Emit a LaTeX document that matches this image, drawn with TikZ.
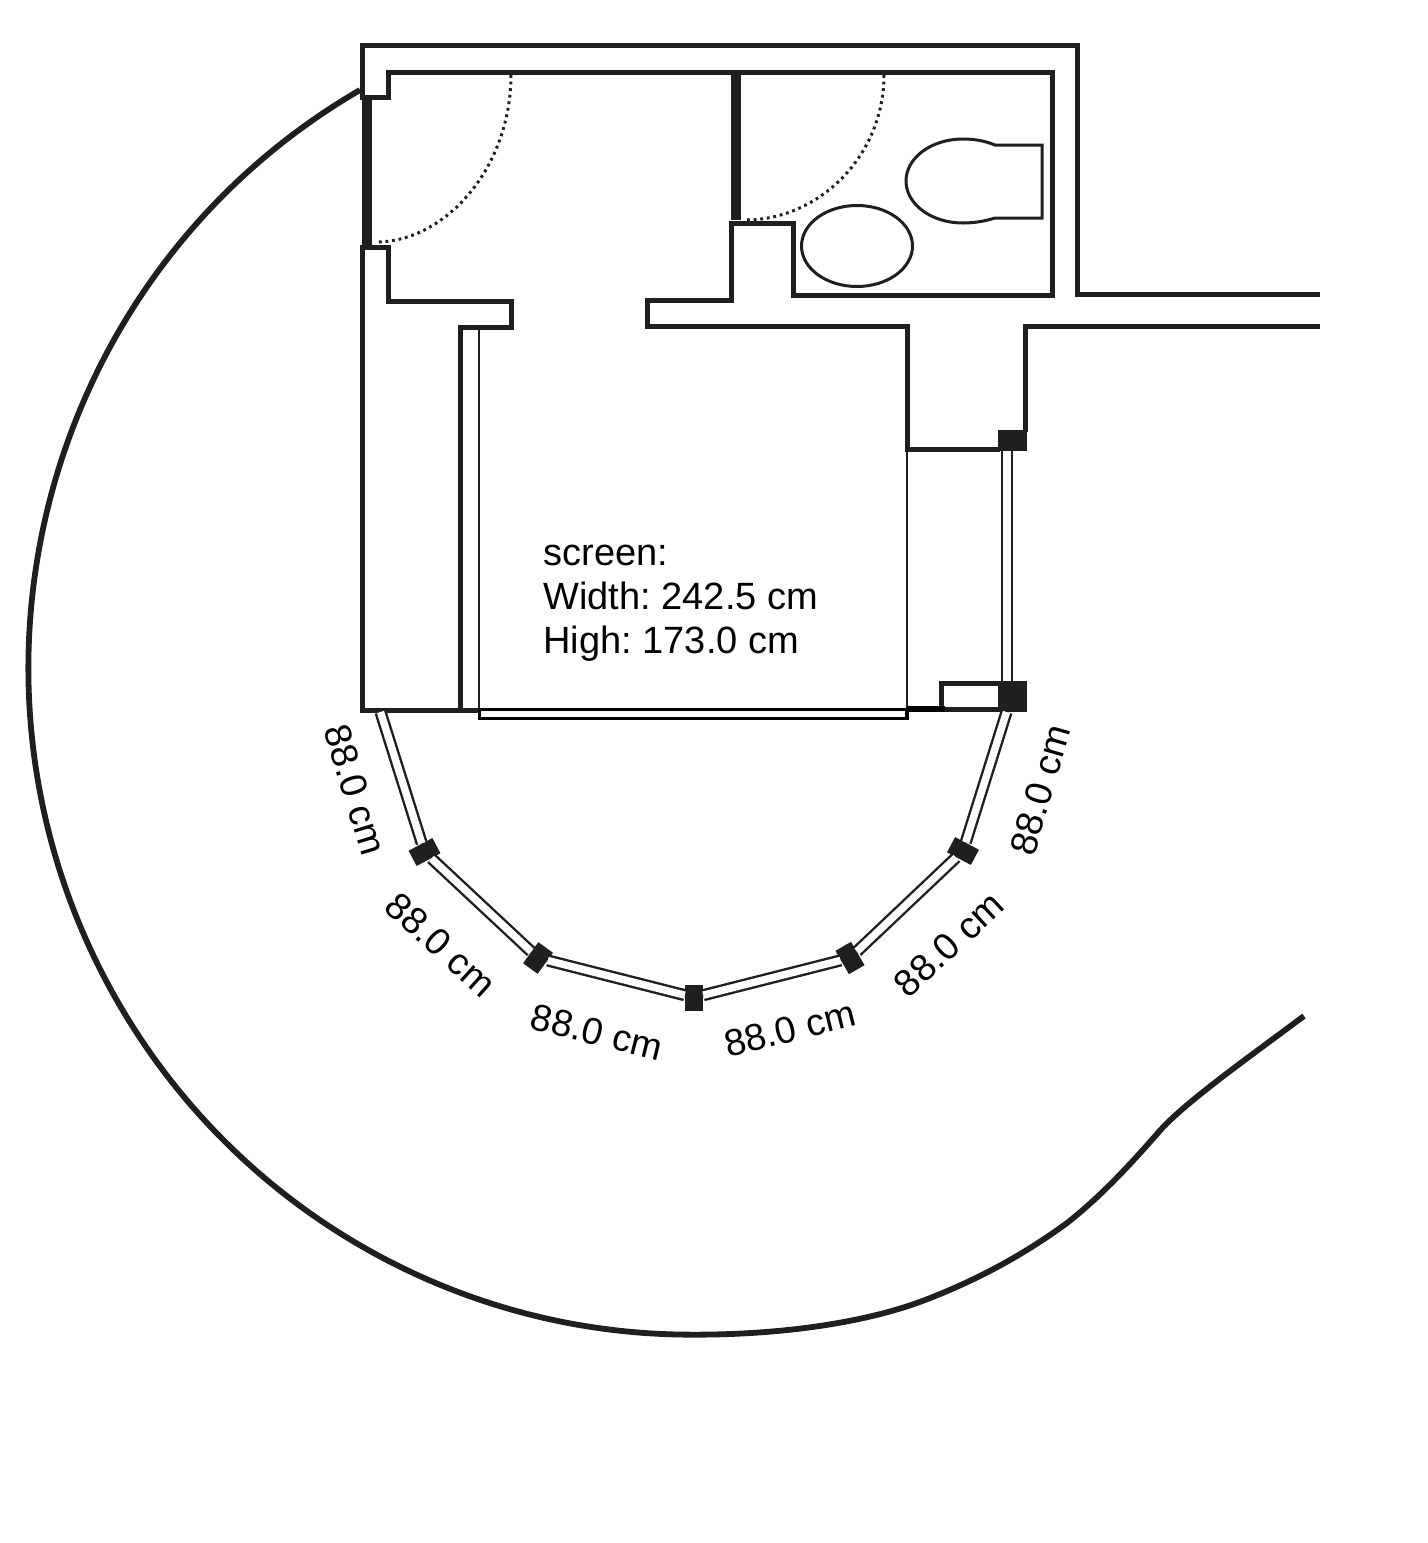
\documentclass[tikz,border=0pt]{standalone}
\usepackage{fontspec}
\setmainfont{Liberation Sans}
\usetikzlibrary{positioning}
\definecolor{planblack}{HTML}{1F1F1F}

\begin{document}
\frenchspacing
\begin{tikzpicture}
  [
    x=0.5pt, y=-0.5pt,
    Wall/.style={draw=planblack, line width=2.5pt},
    Garden/.style={draw=planblack, line width=2.9pt},
    Thin/.style={draw=planblack, line width=1.2pt},
    Panel/.style={draw=planblack, line width=5pt},
    Swing/.style={draw=planblack, line width=1.5pt, dash pattern=on 1.4pt off 1.9pt},
    Fixture/.style={draw=planblack, line width=1.5pt},
    Glass/.style={draw=planblack, line width=1.2pt, double=white, double distance=3.7pt},
    Block/.style={rectangle, fill=planblack, inner sep=0pt},
    Size/.style={font=\fontsize{18.8}{22}\selectfont, inner sep=0pt}
  ]
  \useasboundingbox (0,0) rectangle (1428,1543);

  % Nodes
  \node[Block, minimum width=13.5pt, minimum height=8.6pt, rotate=28] (p1) at(424.5, 852) {};
  \node[Block, minimum width=13pt, minimum height=9pt, rotate=54] (p2) at(538, 958) {};
  \node[Block, minimum width=8.8pt, minimum height=13pt] (p3) at(694, 997.5) {};
  \node[Block, minimum width=13.5pt, minimum height=9pt, rotate=-60] (p4) at(850, 958) {};
  \node[Block, minimum width=13.5pt, minimum height=8.6pt, rotate=-28] (p5) at(963, 851) {};
  \node[Block, minimum width=14.5pt, minimum height=15.5pt] (p6) at(1012.5, 696.5) {};
  \node[Block, minimum width=14.5pt, minimum height=10.5pt] (p7) at(1012.5, 440.5) {};
  \coordinate (g0) at(380.5, 712);
  \coordinate (g6) at(1006.5, 712);
  \coordinate (g7) at(1007, 681);
  \coordinate (g8) at(1007, 451);

  \node[Size, font=\fontsize{19}{22}\selectfont, align=left, anchor=west] (screen) at(543, 603) {screen:\\Width: 242.5 cm\\High: 173.0 cm};
  \node[Size, rotate=-73] (s1) at(355, 790) {88.0 cm};
  \node[Size, rotate=-42] (s2) at(441, 945) {88.0 cm};
  \node[Size, rotate=-14] (s3) at(597, 1032) {88.0 cm};
  \node[Size, rotate=14] (s4) at(790, 1029) {88.0 cm};
  \node[Size, rotate=43] (s5) at(949, 944) {88.0 cm};
  \node[Size, rotate=74] (s6) at(1040, 790) {88.0 cm};

  % Walls
  \path [Wall] (1320, 294) -- (1077, 294) -- (1077, 45) -- (362, 45) -- (362, 97) -- (388, 97) -- (388, 72)
    -- (1052, 72) -- (1052, 295) -- (793, 295) -- (793, 223) -- (731, 223) -- (731, 300) -- (647, 300)
    -- (647, 326) -- (907, 326) -- (907, 449) -- (1000, 449);
  \path [Wall] (1025, 432) -- (1025, 326) -- (1320, 326);
  \path [Wall] (480, 710) -- (362, 710) -- (362, 247) -- (388, 247) -- (388, 301) -- (511, 301)
    -- (511, 327) -- (460, 327) -- (460, 710);
  \path [Thin] (479, 327) -- (479, 710);
  \path [Thin] (907, 449) -- (907, 710);
  \path [draw=black, line width=1.8pt] (907, 710) -- (907, 718.5) -- (479.5, 718.5) -- (479.5, 709.5) -- (907, 709.5);
  \path [Wall] (998, 683.5) -- (941, 683.5) -- (941, 709.5) -- (998, 709.5);
  \path [draw=black, line width=3pt] (907, 708.5) -- (945, 708.5);

  % Doors
  \path [Panel] (367, 97) -- (367, 245);
  \path [Panel] (736, 75) -- (736, 220);
  \path [Swing] (511, 75) .. controls (511, 167) and (446, 242) .. (376, 242);
  \path [Swing] (884, 75) .. controls (884, 155) and (820, 220) .. (745, 220);

  % Fixtures
  \path [Fixture] (857, 246) ellipse [x radius=55.5, y radius=40.5];
  \path [Fixture] (995, 145) .. controls (985, 141) and (975, 139) .. (963, 139)
    .. controls (931, 139) and (906, 158) .. (906, 181)
    .. controls (906, 204) and (931, 223) .. (963, 223)
    .. controls (975, 223) and (985, 221) .. (995, 218) -- (1042, 218) -- (1042, 145) -- cycle;

  % Lines
  \path [Glass] (g0) -- (p1);
  \path [Glass] (p1) -- (p2);
  \path [Glass] (p2) -- (p3);
  \path [Glass] (p3) -- (p4);
  \path [Glass] (p4) -- (p5);
  \path [Glass] (p5) -- (g6);
  \path [Glass] (g7) -- (g8);

  % Garden
  \path [Garden] (360, 90) arc [start angle=120, end angle=270, x radius=331.5pt, y radius=333.5pt]
    .. controls (780, 1335) and (865, 1323) .. (925, 1300)
    .. controls (985, 1277) and (1030, 1250) .. (1067, 1223)
    .. controls (1100, 1197) and (1128, 1167) .. (1157, 1134)
    .. controls (1180, 1106) and (1245, 1060) .. (1304, 1016);
\end{tikzpicture}
\end{document}
